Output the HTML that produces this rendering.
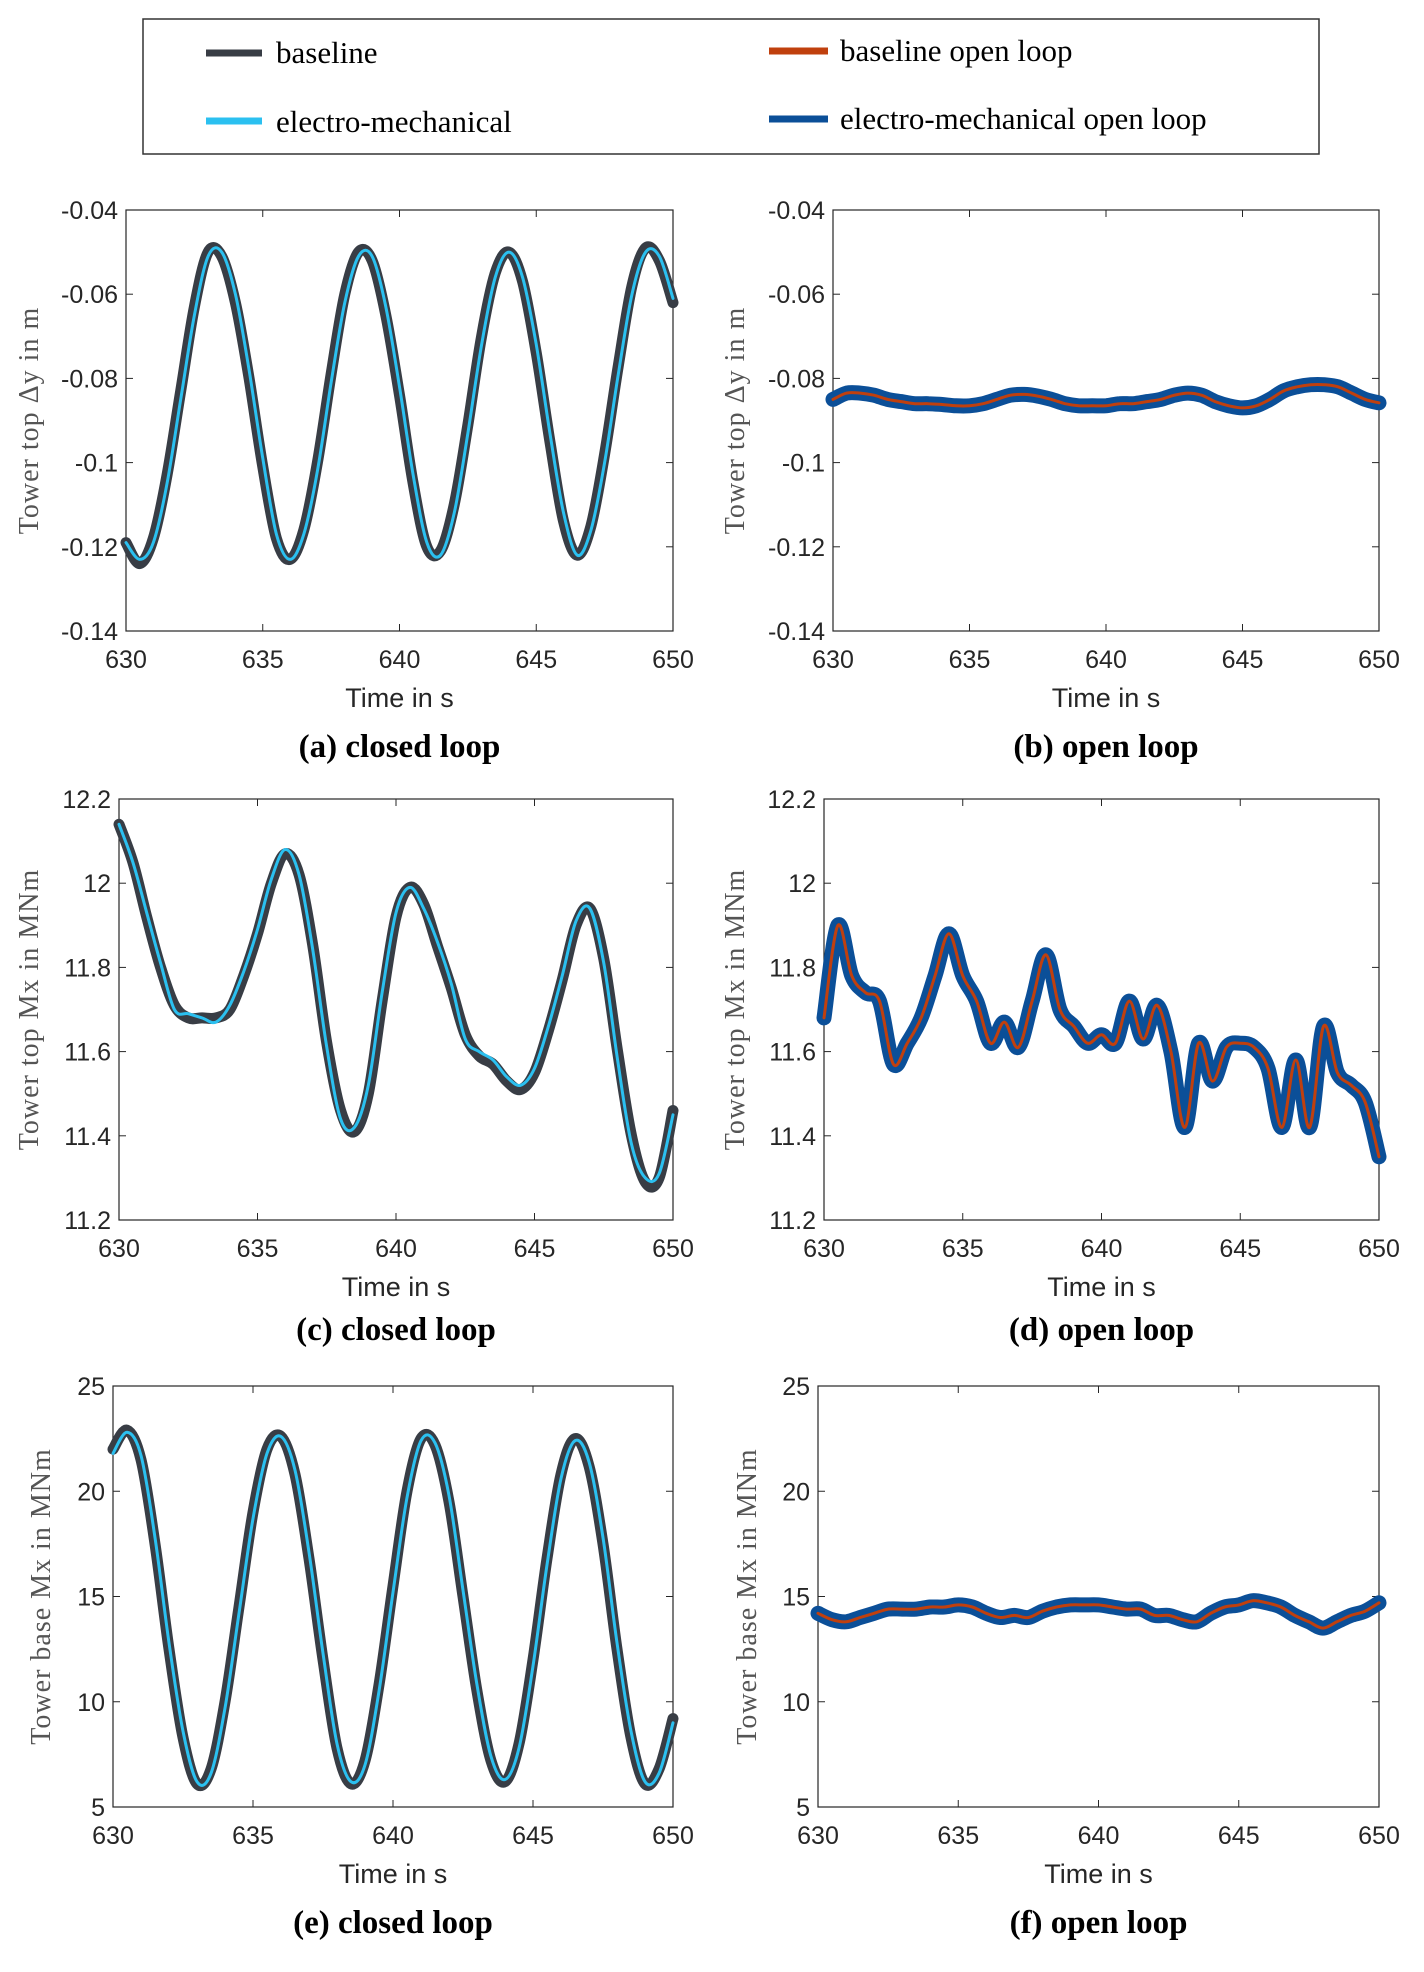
<!DOCTYPE html>
<html><head><meta charset="utf-8"><style>
body{margin:0;background:#fff}
svg text{font-family:"Liberation Sans",sans-serif}
</style></head><body>
<svg id="fig" width="1424" height="1967" xmlns="http://www.w3.org/2000/svg">
<g>
<rect x="143" y="19" width="1176" height="135" fill="#fff" stroke="#333" stroke-width="1.5"/>
<line x1="206" y1="53" x2="262" y2="53" stroke="#383d45" stroke-width="7"/>
<text x="276" y="63" font-size="31" style="font-family:'Liberation Serif',serif">baseline</text>
<line x1="206" y1="121" x2="262" y2="121" stroke="#2bc0f0" stroke-width="7"/>
<text x="276" y="132" font-size="31" style="font-family:'Liberation Serif',serif">electro-mechanical</text>
<line x1="769" y1="51" x2="828" y2="51" stroke="#c0400e" stroke-width="7"/>
<text x="840" y="61" font-size="31" style="font-family:'Liberation Serif',serif">baseline open loop</text>
<line x1="769" y1="119" x2="828" y2="119" stroke="#0b4f98" stroke-width="7"/>
<text x="840" y="129" font-size="31" style="font-family:'Liberation Serif',serif">electro-mechanical open loop</text>
</g>
</svg>
<script>
const times=[];for(let i=0;i<=40;i++)times.push(630+i*0.5);
const aBase=[-0.119,-0.124,-0.118,-0.103,-0.083,-0.063,-0.050,-0.051,-0.062,-0.080,-0.101,-0.118,-0.123,-0.116,-0.100,-0.079,-0.060,-0.050,-0.052,-0.065,-0.084,-0.105,-0.120,-0.121,-0.110,-0.091,-0.070,-0.055,-0.050,-0.057,-0.074,-0.095,-0.114,-0.122,-0.115,-0.098,-0.077,-0.058,-0.049,-0.052,-0.062];
const aEm=[-0.119,-0.123,-0.119,-0.105,-0.085,-0.065,-0.051,-0.050,-0.060,-0.078,-0.099,-0.117,-0.123,-0.117,-0.102,-0.081,-0.062,-0.051,-0.051,-0.063,-0.082,-0.103,-0.119,-0.122,-0.112,-0.093,-0.072,-0.056,-0.050,-0.056,-0.072,-0.093,-0.112,-0.122,-0.116,-0.100,-0.079,-0.060,-0.050,-0.051,-0.061];
const bVals=[-0.085,-0.0835,-0.0835,-0.084,-0.085,-0.0855,-0.086,-0.086,-0.0862,-0.0865,-0.0865,-0.086,-0.085,-0.084,-0.0838,-0.0842,-0.085,-0.086,-0.0865,-0.0865,-0.0865,-0.086,-0.086,-0.0855,-0.085,-0.084,-0.0835,-0.084,-0.0855,-0.0865,-0.087,-0.0865,-0.085,-0.083,-0.082,-0.0815,-0.0815,-0.082,-0.0835,-0.085,-0.0858];
const cBase=[12.14,12.05,11.92,11.80,11.71,11.68,11.68,11.68,11.70,11.78,11.88,12.00,12.07,12.02,11.85,11.62,11.46,11.41,11.50,11.72,11.92,11.99,11.95,11.85,11.75,11.64,11.59,11.57,11.53,11.51,11.55,11.65,11.77,11.90,11.94,11.82,11.60,11.40,11.29,11.30,11.46];
const cEm=[12.14,12.05,11.93,11.81,11.70,11.69,11.68,11.67,11.71,11.79,11.89,12.01,12.08,12.02,11.84,11.61,11.44,11.42,11.52,11.74,11.93,11.99,11.94,11.86,11.76,11.63,11.60,11.58,11.54,11.52,11.56,11.66,11.78,11.91,11.94,11.81,11.58,11.38,11.30,11.31,11.45];
const dVals=[11.68,11.90,11.78,11.74,11.72,11.57,11.62,11.68,11.78,11.88,11.78,11.72,11.62,11.67,11.61,11.72,11.83,11.70,11.66,11.62,11.64,11.62,11.72,11.63,11.71,11.60,11.42,11.62,11.53,11.61,11.62,11.61,11.56,11.42,11.58,11.42,11.66,11.55,11.52,11.48,11.35];
const eBase=[22.0,22.9,21.5,17.5,12.5,8.3,6.1,6.8,10.0,14.5,19.0,22.0,22.6,20.8,16.8,12.0,7.8,6.1,7.2,10.8,15.5,20.0,22.5,22.2,19.5,15.0,10.5,7.2,6.2,8.0,12.0,16.8,20.8,22.5,21.2,17.5,12.5,8.3,6.1,6.8,9.2];
const eEm=[21.8,22.8,21.7,17.8,12.8,8.6,6.2,6.6,9.7,14.2,18.7,21.8,22.6,21.0,17.1,12.3,8.0,6.2,7.0,10.5,15.2,19.7,22.4,22.3,19.8,15.3,10.8,7.4,6.3,7.8,11.7,16.5,20.6,22.4,21.4,17.8,12.8,8.6,6.2,6.6,9.0];
const fVals=[14.2,13.9,13.8,14.0,14.2,14.4,14.4,14.4,14.5,14.5,14.6,14.5,14.2,14.0,14.1,14.0,14.3,14.5,14.6,14.6,14.6,14.5,14.4,14.4,14.1,14.1,13.9,13.8,14.2,14.5,14.6,14.8,14.7,14.5,14.1,13.8,13.5,13.8,14.1,14.3,14.7];
const xTicks=[630,635,640,645,650];
const yTicksA=[-0.04,-0.06,-0.08,-0.1,-0.12,-0.14];
const yTicksC=[12.2,12,11.8,11.6,11.4,11.2];
const yTicksE=[25,20,15,10,5];

const svg=document.getElementById('fig');
const NS='http://www.w3.org/2000/svg';
function mk(tag,attrs,parent){const e=document.createElementNS(NS,tag);for(const k in attrs)e.setAttribute(k,attrs[k]);parent.appendChild(e);return e;}
function path(xs,ys,sx,sy){
  const P=xs.map((t,i)=>[sx(t),sy(ys[i])]);
  let d='M'+P[0][0].toFixed(1)+','+P[0][1].toFixed(1);
  for(let i=0;i<P.length-1;i++){
    const p0=P[Math.max(i-1,0)],p1=P[i],p2=P[i+1],p3=P[Math.min(i+2,P.length-1)];
    const c1x=p1[0]+(p2[0]-p0[0])/6,c1y=p1[1]+(p2[1]-p0[1])/6;
    const c2x=p2[0]-(p3[0]-p1[0])/6,c2y=p2[1]-(p3[1]-p1[1])/6;
    d+='C'+c1x.toFixed(1)+','+c1y.toFixed(1)+' '+c2x.toFixed(1)+','+c2y.toFixed(1)+' '+p2[0].toFixed(1)+','+p2[1].toFixed(1);
  }
  return d;
}

function panel(p){
  const g=mk('g',{},svg);
  
  
  const sx=t=>p.x0+(t-630)/20*(p.x1-p.x0);
  const sy=v=>p.y1-(v-p.ymin)/(p.ymax-p.ymin)*(p.y1-p.y0);
  mk('rect',{x:p.x0,y:p.y0,width:p.x1-p.x0,height:p.y1-p.y0,fill:'#fff',stroke:'#262626','stroke-width':1.2},g);
  xTicks.forEach(t=>{
    mk('line',{x1:sx(t),y1:p.y1,x2:sx(t),y2:p.y1-7,stroke:'#262626'},g);
    mk('line',{x1:sx(t),y1:p.y0,x2:sx(t),y2:p.y0+7,stroke:'#262626'},g);
    const tx=mk('text',{x:sx(t),y:p.y1+37,'font-size':25,'text-anchor':'middle',fill:'#262626'},g);
    tx.textContent=t;
    
    
  });
  p.yt.forEach(v=>{
    mk('line',{x1:p.x0,y1:sy(v),x2:p.x0+7,y2:sy(v),stroke:'#262626'},g);
    mk('line',{x1:p.x1,y1:sy(v),x2:p.x1-7,y2:sy(v),stroke:'#262626'},g);
    const tx=mk('text',{x:p.x0-8,y:sy(v)+9,'font-size':25,'text-anchor':'end',fill:'#262626'},g);
    tx.textContent=String(v);
    
    
  });
  p.series.forEach(s=>{
    const pl=mk('path',{d:path(times,s.v,sx,sy),fill:'none',stroke:s.c,'stroke-width':s.w,'stroke-linejoin':'round','stroke-linecap':'round'},g);
    
    
  });
  const xl=mk('text',{x:(p.x0+p.x1)/2,y:p.y1+76,'font-size':27,'text-anchor':'middle',fill:'#262626'},g);
  xl.textContent='Time in s';
  
  
  const cy=(p.y0+p.y1)/2;
  const yl=mk('text',{x:p.ylx,y:cy,'font-size':28,'text-anchor':'middle',fill:'#555',transform:'rotate(-90 '+p.ylx+' '+cy+')',style:"font-family:'Liberation Serif',serif;letter-spacing:1px"},g);
  yl.textContent=p.ylabel;
  
  
  const cap=mk('text',{x:(p.x0+p.x1)/2,y:p.capy,'font-size':33,'font-weight':'bold','text-anchor':'middle',style:"font-family:'Liberation Serif',serif"},g);
  cap.textContent=p.cap;
  
  
}
const BL='#383d45',EM='#2bc0f0',OB='#0b4f98',OR='#c0400e';
panel({name:'panel-a',x0:126,x1:673,y0:210,y1:631,ymin:-0.14,ymax:-0.04,yt:yTicksA,ylx:38,ylabel:'Tower top Δy in m',cap:'(a) closed loop',capy:757,
  series:[{v:aBase,c:BL,w:11,n:'baseline-line'},{v:aEm,c:EM,w:3,n:'electro-mechanical-line'}]});
panel({name:'panel-b',x0:833,x1:1379,y0:210,y1:631,ymin:-0.14,ymax:-0.04,yt:yTicksA,ylx:744,ylabel:'Tower top Δy in m',cap:'(b) open loop',capy:757,
  series:[{v:bVals,c:OB,w:15,n:'electro-mechanical-open-loop-line'},{v:bVals,c:OR,w:3,n:'baseline-open-loop-line'}]});
panel({name:'panel-c',x0:119,x1:673,y0:799,y1:1220,ymin:11.2,ymax:12.2,yt:yTicksC,ylx:38,ylabel:'Tower top Mx in MNm',cap:'(c) closed loop',capy:1340,
  series:[{v:cBase,c:BL,w:11,n:'baseline-line'},{v:cEm,c:EM,w:3,n:'electro-mechanical-line'}]});
panel({name:'panel-d',x0:824,x1:1379,y0:799,y1:1220,ymin:11.2,ymax:12.2,yt:yTicksC,ylx:744,ylabel:'Tower top Mx in MNm',cap:'(d) open loop',capy:1340,
  series:[{v:dVals,c:OB,w:15,n:'electro-mechanical-open-loop-line'},{v:dVals,c:OR,w:3,n:'baseline-open-loop-line'}]});
panel({name:'panel-e',x0:113,x1:673,y0:1386,y1:1807,ymin:5,ymax:25,yt:yTicksE,ylx:50,ylabel:'Tower base Mx in MNm',cap:'(e) closed loop',capy:1933,
  series:[{v:eBase,c:BL,w:11,n:'baseline-line'},{v:eEm,c:EM,w:3,n:'electro-mechanical-line'}]});
panel({name:'panel-f',x0:818,x1:1379,y0:1386,y1:1807,ymin:5,ymax:25,yt:yTicksE,ylx:756,ylabel:'Tower base Mx in MNm',cap:'(f) open loop',capy:1933,
  series:[{v:fVals,c:OB,w:15,n:'electro-mechanical-open-loop-line'},{v:fVals,c:OR,w:3,n:'baseline-open-loop-line'}]});
</script>
</body></html>
